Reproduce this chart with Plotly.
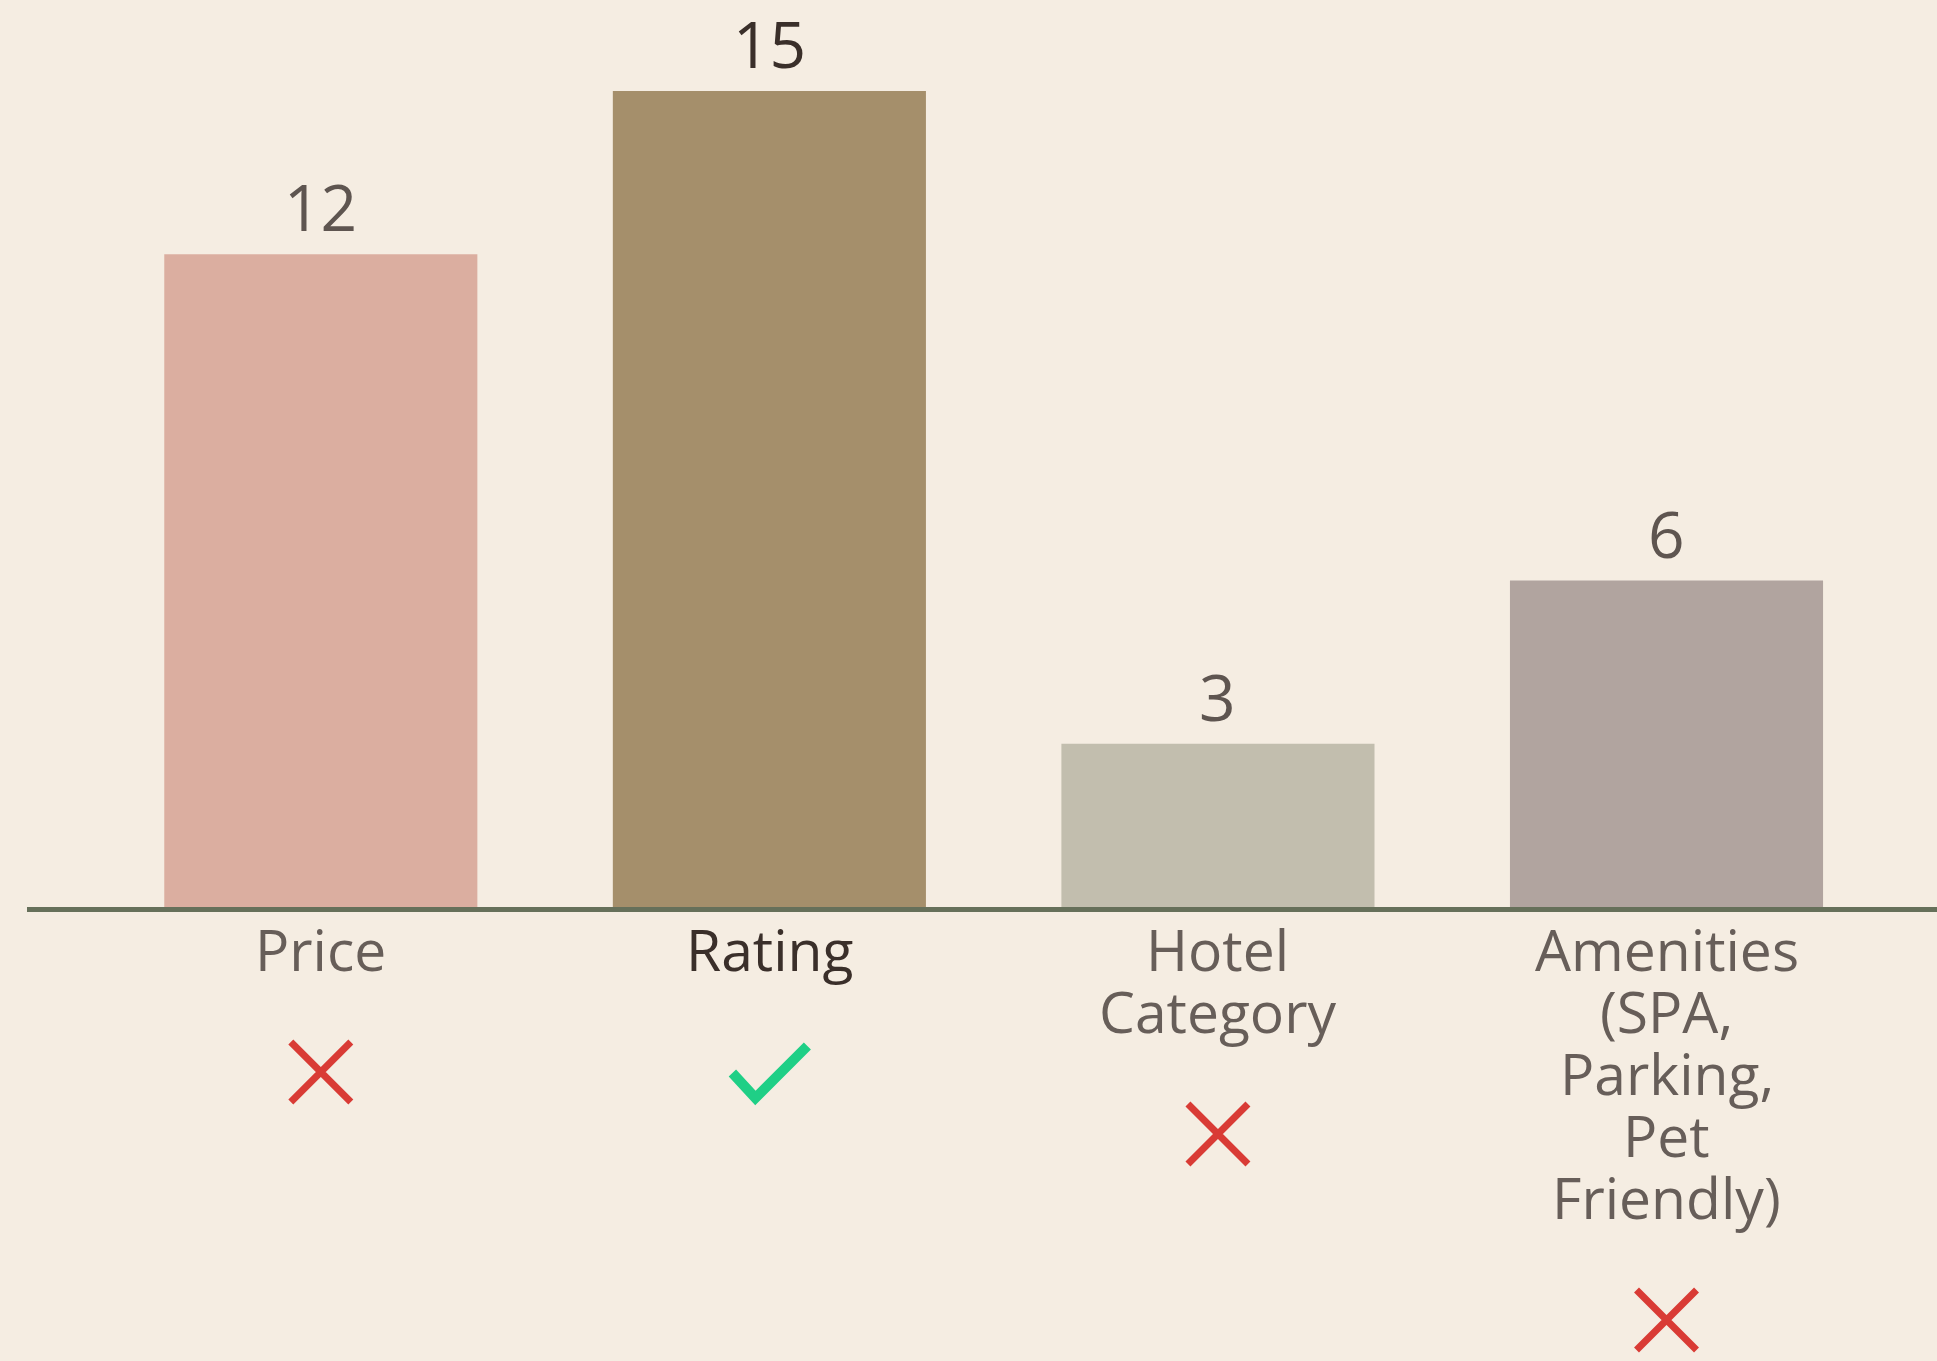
import plotly.graph_objects as go

# ---- data ----
categories = ["Price", "Rating", "Hotel Category", "Amenities (SPA, Parking, Pet Friendly)"]
label_lines = [["Price"], ["Rating"], ["Hotel", "Category"], ["Amenities", "(SPA,", "Parking,", "Pet", "Friendly)"]]
values = [12, 15, 3, 6]
is_match = [False, True, False, False]

# ---- styles ----
bar_colors = ["#dbaea0", "#a58f6b", "#c2beae", "#b1a49f"]
value_colors = ["#5e5550", "#3a2f2a", "#5e5550", "#5e5550"]
label_colors = ["#675e59", "#3a2f2a", "#675e59", "#675e59"]
bg = "#f5ede2"
FONT = "Open Sans"
RED = "#d93b35"
GREEN = "#1fcf86"

W, H = 1937, 1361
axis_px = 907
px_per_unit = 54.4
ymax = axis_px / px_per_unit
LINE_H = 62        # label line pitch, px
FIRST_LINE = 42    # first label line centre below axis, px
ICON_GAP = 165     # icon centre below axis for a one-line label, px

fig = go.Figure()
fig.add_trace(go.Bar(
    x=list(range(len(categories))), y=values,
    marker=dict(color=bar_colors, line=dict(width=0)),
    width=0.698,
    hovertext=categories, hoverinfo="text+y",
))

annotations = []
shapes = []
for i, (v, c) in enumerate(zip(values, value_colors)):
    annotations.append(dict(
        x=i, y=v, xref="x", yref="y", text=str(v), showarrow=False,
        yanchor="bottom", yshift=2,
        font=dict(family=FONT, size=64, color=c),
    ))

for i, (lines, lc, ok) in enumerate(zip(label_lines, label_colors, is_match)):
    for j, ln in enumerate(lines):
        annotations.append(dict(
            x=i, y=0, xref="x", yref="y", text=ln, showarrow=False,
            yanchor="middle", yshift=-(FIRST_LINE + LINE_H * j),
            font=dict(family=FONT, size=57, color=lc),
        ))
    off = ICON_GAP + LINE_H * (len(lines) - 1)
    if ok:
        path = f"M-37,{-off - 1} L-14,{-off - 26} L38,{-off + 26}"
        shapes.append(dict(
            type="path", xref="x", yref="paper", xsizemode="pixel", ysizemode="pixel",
            xanchor=i, yanchor=0, path=path,
            line=dict(color=GREEN, width=10), fillcolor="rgba(0,0,0,0)",
        ))
    else:
        h = 30
        path = (f"M{-h},{-off + h} L{h},{-off - h} "
                f"M{-h},{-off - h} L{h},{-off + h}")
        shapes.append(dict(
            type="path", xref="x", yref="paper", xsizemode="pixel", ysizemode="pixel",
            xanchor=i, yanchor=0, path=path,
            line=dict(color=RED, width=7), fillcolor="rgba(0,0,0,0)",
        ))

fig.update_layout(
    width=W, height=H,
    margin=dict(l=27, r=0, t=0, b=H - axis_px, pad=0),
    paper_bgcolor=bg, plot_bgcolor=bg,
    showlegend=False,
    annotations=annotations,
    shapes=shapes,
    xaxis=dict(
        range=[-0.655, 3.603],
        showticklabels=False,
        showline=True, linecolor="#66705a", linewidth=5,
        ticks="", showgrid=False, zeroline=False,
    ),
    yaxis=dict(
        range=[0, ymax], visible=False, showgrid=False, zeroline=False,
    ),
)

fig.write_html(
    "out.html",
    config={"displayModeBar": False},
    post_script="document.body.style.margin='0';document.body.style.overflow='hidden';",
)
